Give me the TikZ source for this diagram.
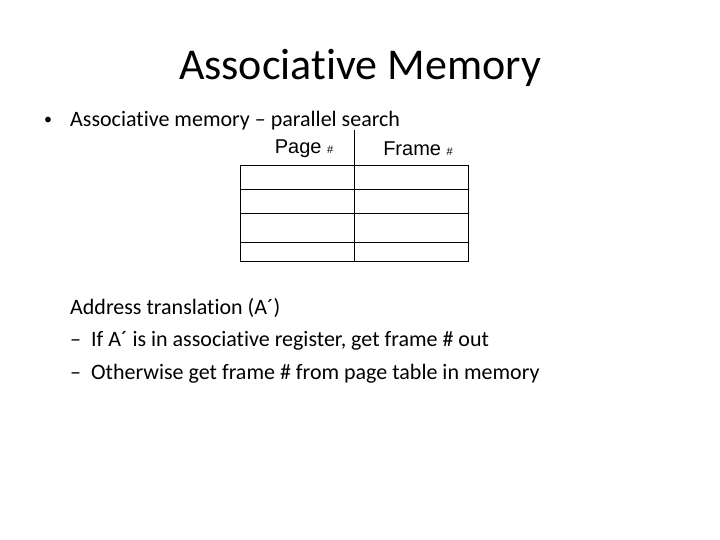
\documentclass[tikz,border=0pt]{standalone}
\usepackage{fontspec}
\setmainfont{Carlito}[RawFeature={-liga}]
\newfontfamily\arialf{Liberation Sans}
\begin{document}
\begin{tikzpicture}[x=1pt,y=-1pt,
  txt/.style={anchor=west,inner sep=0pt,font=\fontsize{22}{26}\selectfont},
  lab/.style={inner sep=0pt,font=\arialf\fontsize{20}{24}\selectfont},
  grid/.style={draw=black,line width=0.8pt}]
\useasboundingbox[fill=white] (0,0) rectangle (720,540);
\node[inner sep=0pt,font=\fontsize{44}{50}\selectfont] (title) at (360,68) {Associative Memory};
\node[txt,font=\fontsize{16}{20}\selectfont] (b1) at (44,121) {•};
\node[txt] (l1) at (70,121) {Associative memory -- parallel search};
\node[lab] (pg) at (304,149) {Page {\fontsize{11}{12}\selectfont \#}};
\node[lab] (fr) at (418,149) {Frame {\fontsize{11}{12}\selectfont \#}};
\coordinate (tl) at (240,165); \coordinate (br) at (468,261);
\coordinate (mt) at (354,130); \coordinate (mb) at (354,261);
\draw[grid] (tl) rectangle (br);
\draw[grid] (mt) -- (mb);
\foreach \y in {189,213,242} \draw[grid] (240,\y) -- (468,\y);
\node[txt] (l2) at (70,308) {Address translation (A´)};
\node[txt] (l3) at (70,341) {--\hspace{10pt}If A´ is in associative register, get frame \# out};
\node[txt] (l4) at (70,374) {--\hspace{10pt}Otherwise get frame \# from page table in memory};
\end{tikzpicture}
\end{document}
